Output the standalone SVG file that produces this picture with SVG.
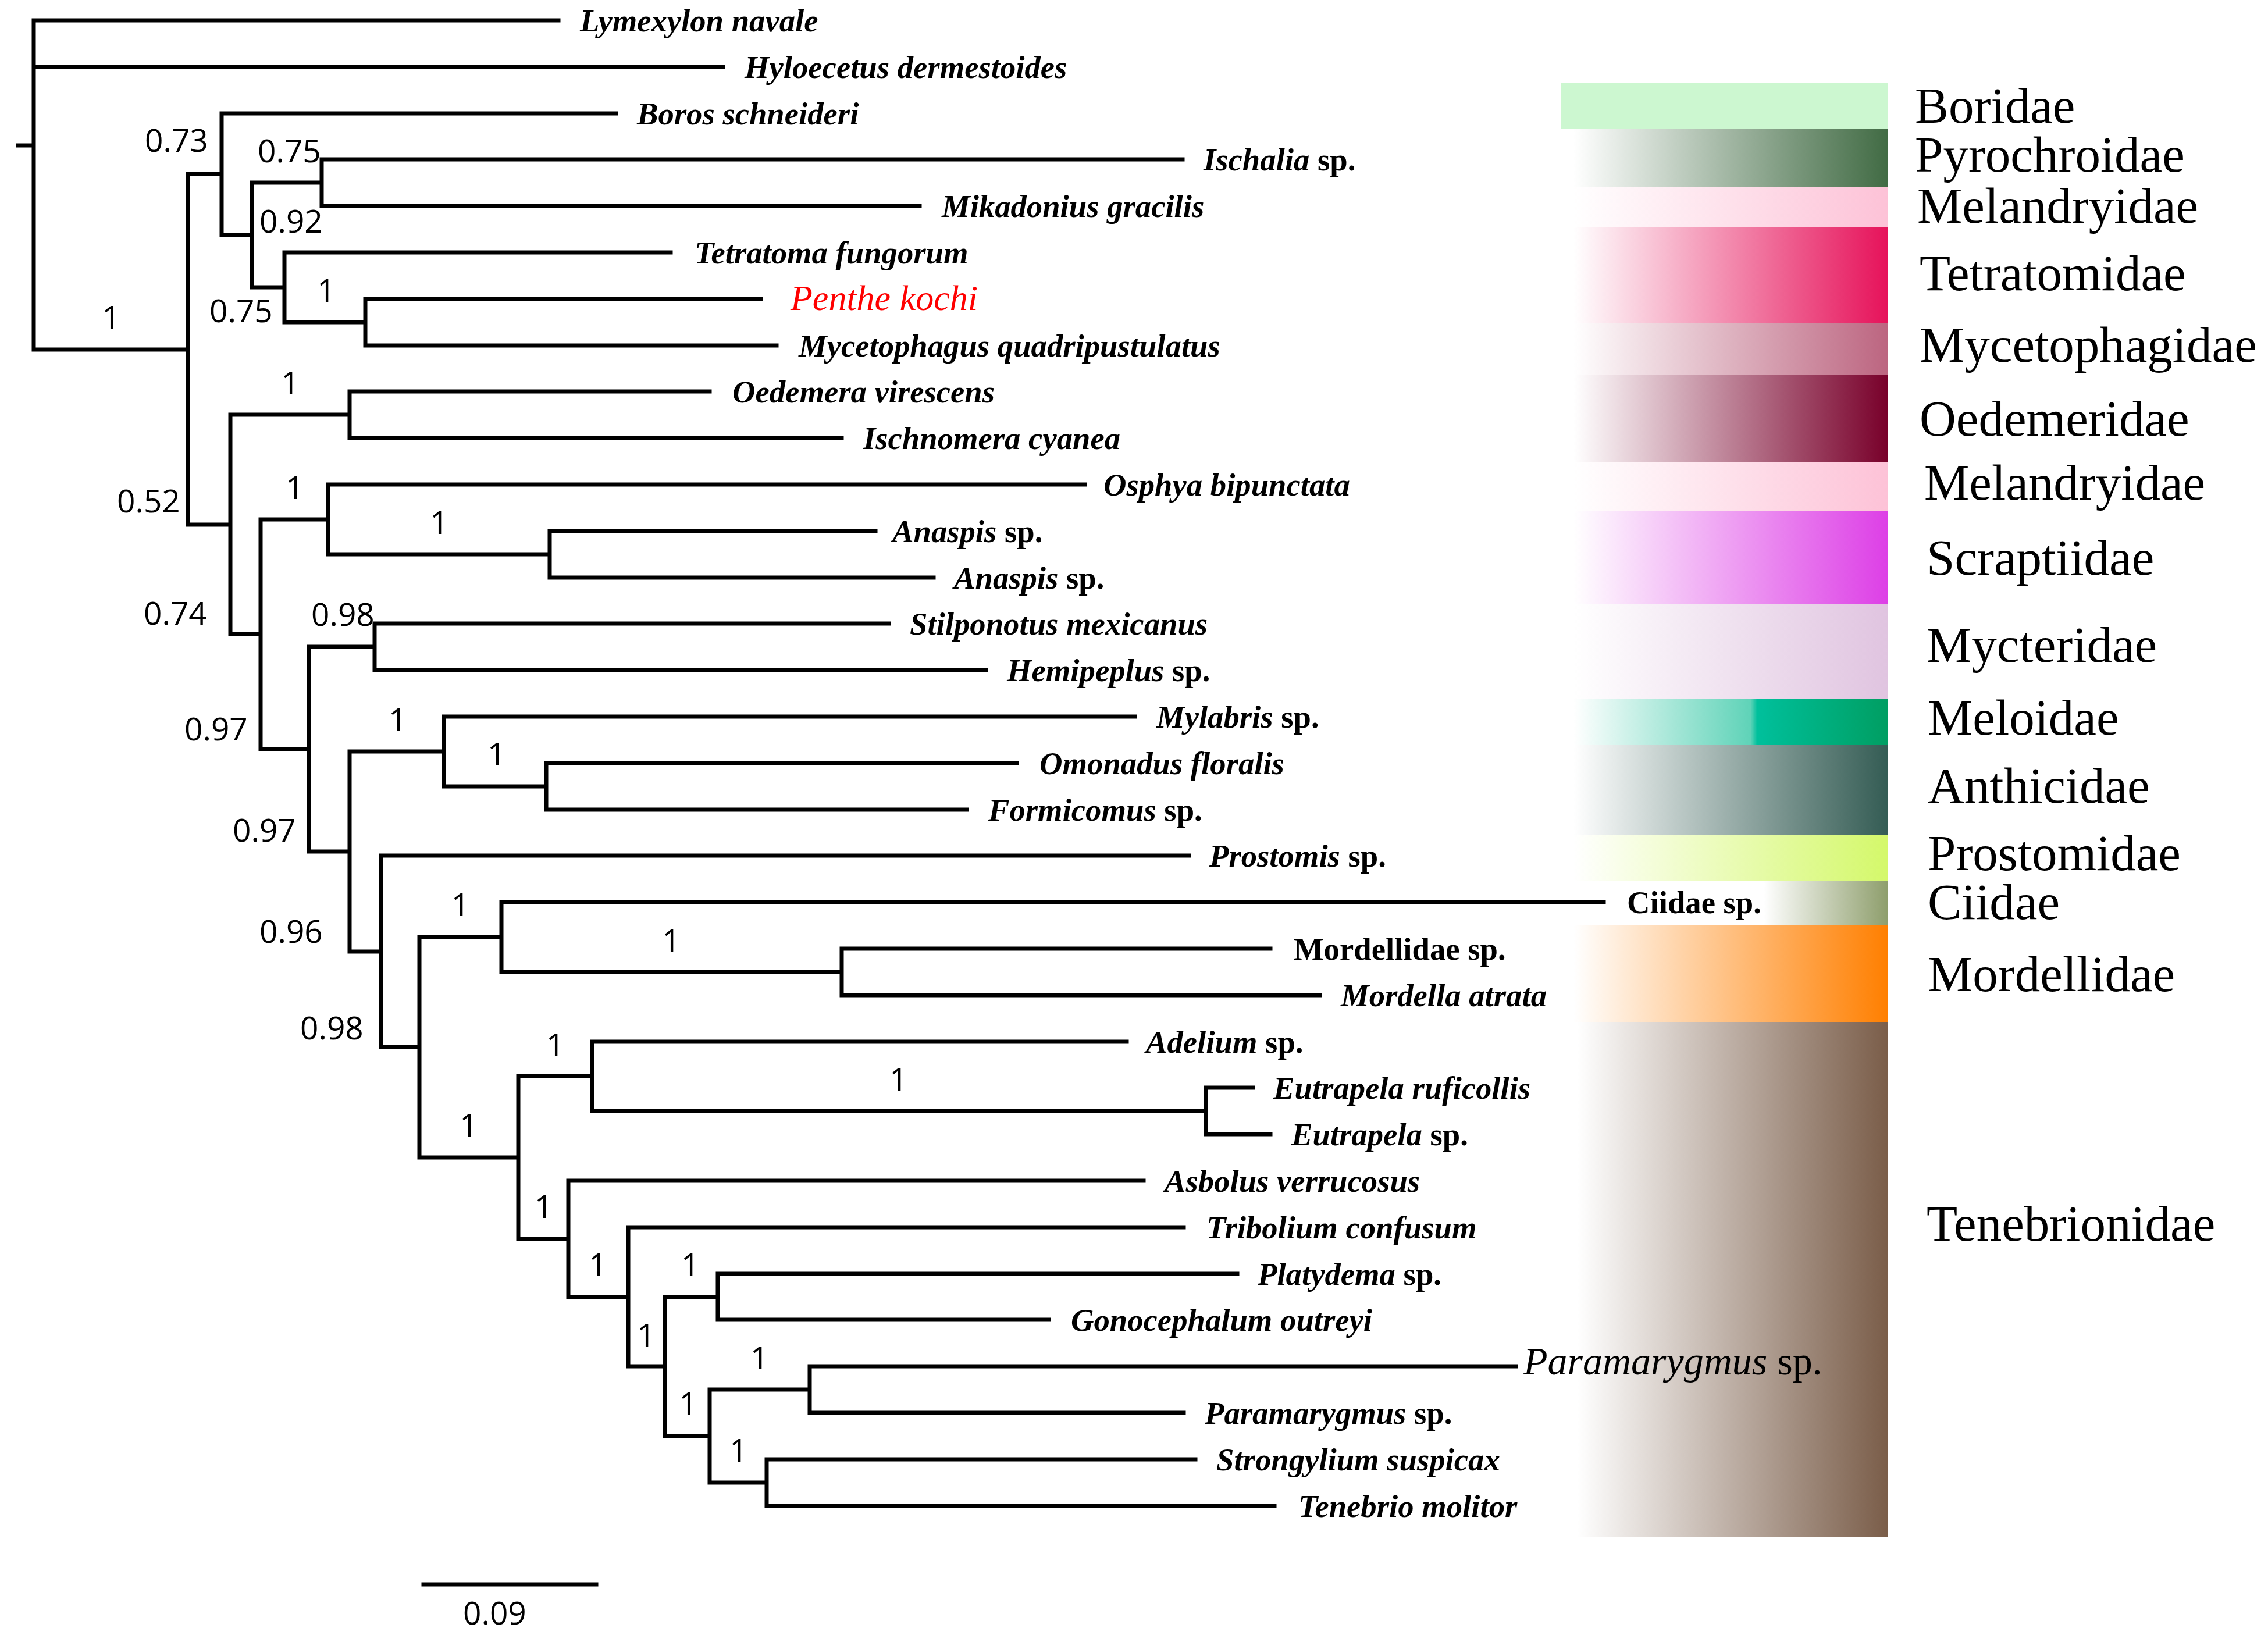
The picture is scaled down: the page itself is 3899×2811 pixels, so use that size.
<svg xmlns="http://www.w3.org/2000/svg" width="3899" height="2811" viewBox="0 0 3899 2811">
<defs>
<style>
.br{fill:none;stroke:#000;stroke-width:7;stroke-linecap:square}
.sp{font-family:"Liberation Serif","Times New Roman",serif;font-size:54.7px;font-weight:bold;font-style:italic;fill:#000}
.up{font-style:normal}
.bs{font-family:"Open Sans","Liberation Sans",sans-serif;font-size:55px;fill:#000}
.fam{font-family:"Liberation Serif","Times New Roman",serif;font-size:87px;fill:#000}
</style>
<linearGradient id="gPyro"><stop offset="0.04" stop-color="#fff"/><stop offset="1" stop-color="#416b44"/></linearGradient>
<linearGradient id="gMel"><stop offset="0.04" stop-color="#fff"/><stop offset="1" stop-color="#fdc2d7"/></linearGradient>
<linearGradient id="gTet"><stop offset="0.04" stop-color="#fff"/><stop offset="1" stop-color="#e6125a"/></linearGradient>
<linearGradient id="gMyc"><stop offset="0.04" stop-color="#fff"/><stop offset="1" stop-color="#bc6580"/></linearGradient>
<linearGradient id="gOed"><stop offset="0.04" stop-color="#fff"/><stop offset="1" stop-color="#78002a"/></linearGradient>
<linearGradient id="gScr"><stop offset="0.04" stop-color="#fff"/><stop offset="1" stop-color="#dd3fe6"/></linearGradient>
<linearGradient id="gMyct"><stop offset="0.04" stop-color="#fff"/><stop offset="1" stop-color="#e0c4e0"/></linearGradient>
<linearGradient id="gMelo"><stop offset="0.04" stop-color="#fff"/><stop offset="0.58" stop-color="#5fd3b8"/><stop offset="0.6" stop-color="#00c09c"/><stop offset="1" stop-color="#009e62"/></linearGradient>
<linearGradient id="gAnt"><stop offset="0.04" stop-color="#fff"/><stop offset="1" stop-color="#345c54"/></linearGradient>
<linearGradient id="gPros"><stop offset="0.04" stop-color="#fff"/><stop offset="1" stop-color="#d4f86a"/></linearGradient>
<linearGradient id="gCii"><stop offset="0.62" stop-color="#fff"/><stop offset="1" stop-color="#8e9e6c"/></linearGradient>
<linearGradient id="gMord"><stop offset="0.04" stop-color="#fff"/><stop offset="1" stop-color="#ff7f00"/></linearGradient>
<linearGradient id="gTen"><stop offset="0.05" stop-color="#fff"/><stop offset="1" stop-color="#7a5d49"/></linearGradient>
</defs>
<rect width="3899" height="2811" fill="#fff"/>

<g id="family-bars">
<g id="fam-boridae"><rect x="2683" y="142" width="563" height="79" fill="#ccf7d0"/><text class="fam" x="3292" y="211">Boridae</text></g>
<g id="fam-pyrochroidae"><rect x="2683" y="221" width="563" height="101" fill="url(#gPyro)"/><text class="fam" x="3292" y="295">Pyrochroidae</text></g>
<g id="fam-melandryidae-1"><rect x="2683" y="322" width="563" height="69" fill="url(#gMel)"/><text class="fam" x="3296" y="383">Melandryidae</text></g>
<g id="fam-tetratomidae"><rect x="2683" y="391" width="563" height="165" fill="url(#gTet)"/><text class="fam" x="3300" y="499">Tetratomidae</text></g>
<g id="fam-mycetophagidae"><rect x="2683" y="556" width="563" height="88" fill="url(#gMyc)"/><text class="fam" x="3300" y="622">Mycetophagidae</text></g>
<g id="fam-oedemeridae"><rect x="2683" y="644" width="563" height="151" fill="url(#gOed)"/><text class="fam" x="3300" y="749">Oedemeridae</text></g>
<g id="fam-melandryidae-2"><rect x="2683" y="795" width="563" height="83" fill="url(#gMel)"/><text class="fam" x="3308" y="859">Melandryidae</text></g>
<g id="fam-scraptiidae"><rect x="2683" y="878" width="563" height="160" fill="url(#gScr)"/><text class="fam" x="3312" y="988">Scraptiidae</text></g>
<g id="fam-mycteridae"><rect x="2683" y="1038" width="563" height="164" fill="url(#gMyct)"/><text class="fam" x="3312" y="1138">Mycteridae</text></g>
<g id="fam-meloidae"><rect x="2683" y="1202" width="563" height="79" fill="url(#gMelo)"/><text class="fam" x="3314" y="1263">Meloidae</text></g>
<g id="fam-anthicidae"><rect x="2683" y="1281" width="563" height="154" fill="url(#gAnt)"/><text class="fam" x="3314" y="1380">Anthicidae</text></g>
<g id="fam-prostomidae"><rect x="2683" y="1435" width="563" height="80" fill="url(#gPros)"/><text class="fam" x="3314" y="1496">Prostomidae</text></g>
<g id="fam-ciidae"><rect x="2683" y="1515" width="563" height="75" fill="url(#gCii)"/><text class="fam" x="3314" y="1580">Ciidae</text></g>
<g id="fam-mordellidae"><rect x="2683" y="1590" width="563" height="167" fill="url(#gMord)"/><text class="fam" x="3314" y="1704">Mordellidae</text></g>
<g id="fam-tenebrionidae"><rect x="2683" y="1757" width="563" height="886" fill="url(#gTen)"/><text class="fam" x="3312" y="2133">Tenebrionidae</text></g>
</g>

<g id="connectors">
<path class="br" d="M31 250H58 M58 35V601 M58 35H960 M58 115H1243 M58 601H323
M323 299.5V902 M323 299.5H381 M323 902H396
M381 195V404 M381 195H1059 M381 404H433
M433 314V494 M433 314H553 M433 494H489
M553 274V354 M553 274H2033 M553 354H1581
M489 434V554 M489 434H1153 M489 554H628
M628 514V594 M628 514H1308 M628 594H1335
M396 713V1090.5 M396 713H601 M396 1090.5H448
M601 673V753 M601 673H1220 M601 753H1447
M448 893V1288 M448 893H564 M448 1288H531
M564 833V953 M564 833H1865 M564 953H945
M945 913V993 M945 913H1505 M945 993H1605
M531 1112V1464 M531 1112H644 M531 1464H601
M644 1072V1152 M644 1072H1528 M644 1152H1695
M601 1292V1636 M601 1292H763 M601 1636H655
M763 1232V1352 M763 1232H1951 M763 1352H939
M939 1312V1392 M939 1312H1748 M939 1392H1662
M655 1471V1800.5 M655 1471H2044 M655 1800.5H721
M721 1611V1990 M721 1611H862 M721 1990H891
M862 1551V1671 M862 1551H2757 M862 1671H1447
M1447 1631V1711 M1447 1631H2184 M1447 1711H2269
M891 1850.5V2130 M891 1850.5H1018 M891 2130H977
M1018 1791V1910 M1018 1791H1937 M1018 1910H2073
M2073 1870V1950 M2073 1870H2154 M2073 1950H2184
M977 2030V2229.5 M977 2030H1966 M977 2229.5H1080
M1080 2110V2349 M1080 2110H2035 M1080 2349H1143
M1143 2229.5V2469 M1143 2229.5H1234 M1143 2469H1220
M1234 2190V2269 M1234 2190H2127 M1234 2269H1803
M1220 2389V2549 M1220 2389H1392 M1220 2549H1318
M1392 2349V2429 M1392 2349H2606 M1392 2429H2035
M1318 2509V2589 M1318 2509H2055 M1318 2589H2191"/>
<path class="br" d="M728 2724H1025"/>
</g>

<g id="leaves">
<g id="leaf-01"><text class="sp" x="997" y="54">Lymexylon navale</text></g>
<g id="leaf-02"><text class="sp" x="1280" y="134">Hyloecetus dermestoides</text></g>
<g id="leaf-03"><text class="sp" x="1095" y="214">Boros schneideri</text></g>
<g id="leaf-04"><text class="sp" x="2069" y="293">Ischalia<tspan class="up"> sp.</tspan></text></g>
<g id="leaf-05"><text class="sp" x="1619" y="373">Mikadonius gracilis</text></g>
<g id="leaf-06"><text class="sp" x="1194" y="453">Tetratoma fungorum</text></g>
<g id="leaf-07"><text x="1359" y="533" style="font-family:'Liberation Serif','Times New Roman',serif;font-size:62px;font-style:italic;fill:#ff0000">Penthe kochi</text></g>
<g id="leaf-08"><text class="sp" x="1373" y="613">Mycetophagus quadripustulatus</text></g>
<g id="leaf-09"><text class="sp" x="1259" y="692">Oedemera virescens</text></g>
<g id="leaf-10"><text class="sp" x="1484" y="772">Ischnomera cyanea</text></g>
<g id="leaf-11"><text class="sp" x="1897" y="852">Osphya bipunctata</text></g>
<g id="leaf-12"><text class="sp" x="1534" y="932">Anaspis<tspan class="up"> sp.</tspan></text></g>
<g id="leaf-13"><text class="sp" x="1640" y="1012">Anaspis<tspan class="up"> sp.</tspan></text></g>
<g id="leaf-14"><text class="sp" x="1564" y="1091">Stilponotus mexicanus</text></g>
<g id="leaf-15"><text class="sp" x="1731" y="1171">Hemipeplus<tspan class="up"> sp.</tspan></text></g>
<g id="leaf-16"><text class="sp" x="1988" y="1251">Mylabris<tspan class="up"> sp.</tspan></text></g>
<g id="leaf-17"><text class="sp" x="1787" y="1331">Omonadus floralis</text></g>
<g id="leaf-18"><text class="sp" x="1699" y="1411">Formicomus<tspan class="up"> sp.</tspan></text></g>
<g id="leaf-19"><text class="sp" x="2079" y="1490">Prostomis<tspan class="up"> sp.</tspan></text></g>
<g id="leaf-20"><text class="sp up" x="2797" y="1570">Ciidae sp.</text></g>
<g id="leaf-21"><text class="sp up" x="2224" y="1650">Mordellidae sp.</text></g>
<g id="leaf-22"><text class="sp" x="2305" y="1730">Mordella atrata</text></g>
<g id="leaf-23"><text class="sp" x="1970" y="1810">Adelium<tspan class="up"> sp.</tspan></text></g>
<g id="leaf-24"><text class="sp" x="2189" y="1889">Eutrapela ruficollis</text></g>
<g id="leaf-25"><text class="sp" x="2220" y="1969">Eutrapela<tspan class="up"> sp.</tspan></text></g>
<g id="leaf-26"><text class="sp" x="2002" y="2049">Asbolus verrucosus</text></g>
<g id="leaf-27"><text class="sp" x="2074" y="2129">Tribolium confusum</text></g>
<g id="leaf-28"><text class="sp" x="2162" y="2209">Platydema<tspan class="up"> sp.</tspan></text></g>
<g id="leaf-29"><text class="sp" x="1841" y="2288">Gonocephalum outreyi</text></g>
<g id="leaf-30"><text x="2619" y="2363" style="font-family:'Liberation Serif','Times New Roman',serif;font-size:68px;font-style:italic;fill:#000">Paramarygmus<tspan style="font-style:normal"> sp.</tspan></text></g>
<g id="leaf-31"><text class="sp" x="2071" y="2448">Paramarygmus<tspan class="up"> sp.</tspan></text></g>
<g id="leaf-32"><text class="sp" x="2091" y="2528">Strongylium suspicax</text></g>
<g id="leaf-33"><text class="sp" x="2232" y="2608">Tenebrio molitor</text></g>
</g>

<g id="support-values">
<text class="bs" x="249" y="261">0.73</text>
<text class="bs" x="443" y="279">0.75</text>
<text class="bs" x="446" y="400">0.92</text>
<text class="bs" x="545" y="519">1</text>
<text class="bs" x="360" y="554">0.75</text>
<text class="bs" x="175" y="565">1</text>
<text class="bs" x="483" y="678">1</text>
<text class="bs" x="201" y="881">0.52</text>
<text class="bs" x="491" y="858">1</text>
<text class="bs" x="739" y="918">1</text>
<text class="bs" x="247" y="1074">0.74</text>
<text class="bs" x="535" y="1076">0.98</text>
<text class="bs" x="668" y="1257">1</text>
<text class="bs" x="838" y="1316">1</text>
<text class="bs" x="317" y="1273">0.97</text>
<text class="bs" x="400" y="1447">0.97</text>
<text class="bs" x="446" y="1621">0.96</text>
<text class="bs" x="776" y="1575">1</text>
<text class="bs" x="1138" y="1637">1</text>
<text class="bs" x="516" y="1787">0.98</text>
<text class="bs" x="939" y="1816">1</text>
<text class="bs" x="790" y="1954">1</text>
<text class="bs" x="1529" y="1875">1</text>
<text class="bs" x="919" y="2094">1</text>
<text class="bs" x="1012" y="2194">1</text>
<text class="bs" x="1171" y="2194">1</text>
<text class="bs" x="1095" y="2315">1</text>
<text class="bs" x="1167" y="2433">1</text>
<text class="bs" x="1254" y="2513">1</text>
<text class="bs" x="1290" y="2354">1</text>
</g>

<g id="scale-bar">
<text class="bs" x="796" y="2793">0.09</text>
</g>
</svg>
